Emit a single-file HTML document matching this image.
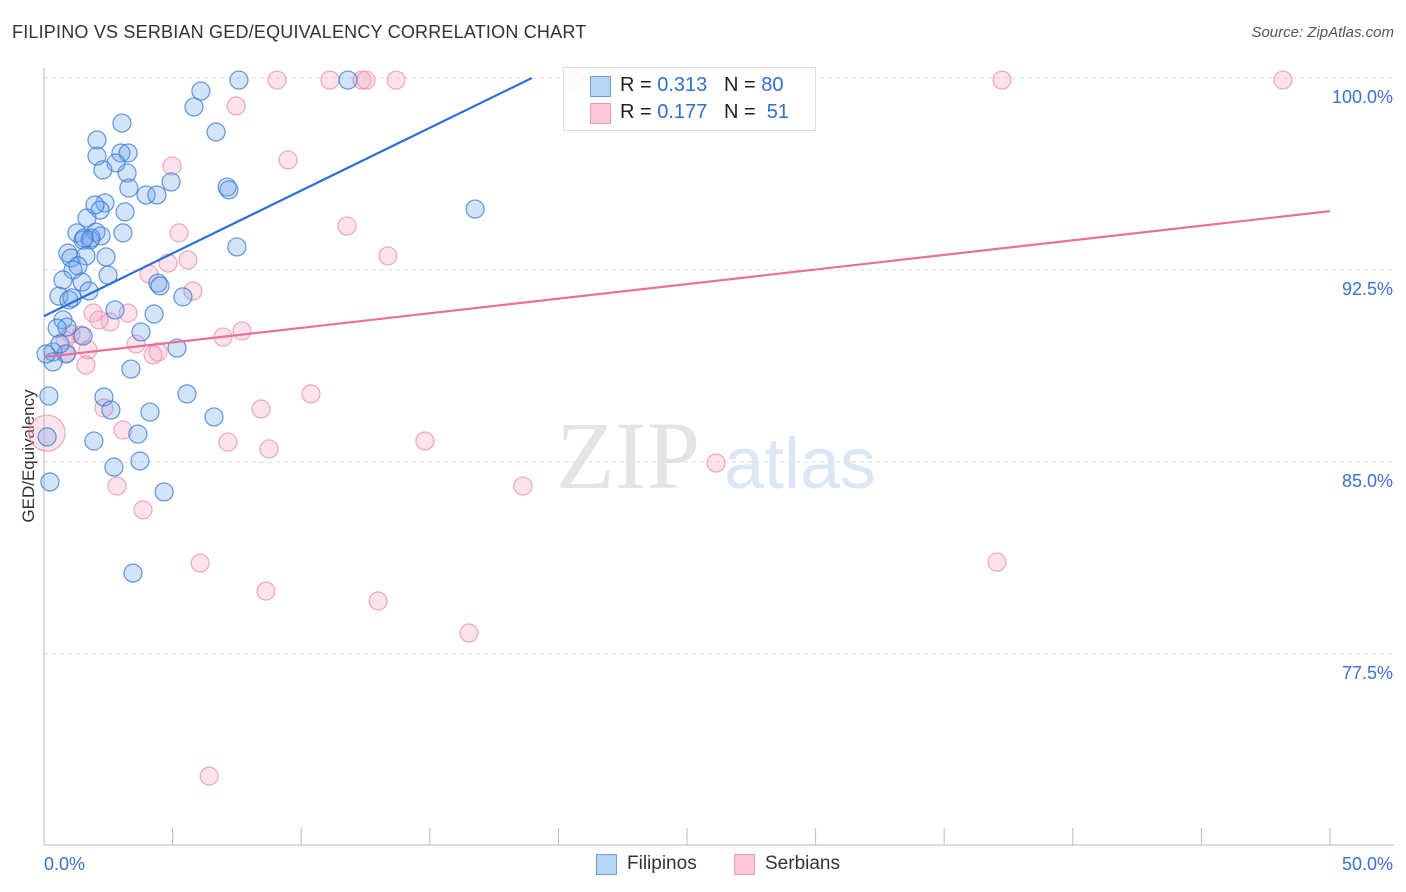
<!DOCTYPE html>
<html><head><meta charset="utf-8">
<style>
body{margin:0;background:#fff;font-family:"Liberation Sans",sans-serif;}
#wrap{position:relative;width:1406px;height:892px;overflow:hidden;}
.t{position:absolute;white-space:nowrap;}
</style></head>
<body>
<div id="wrap">
<div class="t" style="left:12px;top:22px;font-size:18px;color:#333;letter-spacing:0.2px">FILIPINO VS SERBIAN GED/EQUIVALENCY CORRELATION CHART</div>
<div class="t" style="right:12px;top:24px;font-size:15px;color:#555;font-style:italic">Source: ZipAtlas.com</div>
<svg id="svg" width="1406" height="892" style="position:absolute;left:0;top:0"></svg>
</div>
<script>
const xTickVals=[0,5,10,15,20,25,30,35,40,45,50];
const yTickVals=[100,92.5,85,77.5];
const yTickLabels=["100.0%","92.5%","85.0%","77.5%"];
const xEndLabels=["0.0%","50.0%"];
const filX=[7.58,11.82,6.10,5.83,3.03,6.69,2.06,2.06,2.99,3.27,2.80,2.29,3.23,3.30,3.97,4.39,4.94,7.12,7.19,2.37,2.18,3.15,1.67,16.76,1.28,2.02,3.07,1.52,1.79,2.22,1.83,7.50,0.93,1.05,1.63,2.41,1.32,1.13,2.49,0.74,1.48,1.75,4.43,4.51,0.58,1.09,0.97,2.76,5.40,4.28,0.74,0.89,0.51,1.52,3.77,5.17,0.86,0.35,0.35,3.38,0.19,2.33,2.60,5.56,4.12,6.61,3.65,0.12,1.94,3.73,2.72,0.23,4.67,3.46,0.08,0.62,1.56,1.98];
const filY=[99.92,99.92,99.49,98.87,98.24,97.89,97.58,96.95,97.07,97.07,96.68,96.41,96.29,95.70,95.43,95.43,95.94,95.74,95.63,95.12,94.84,94.77,94.53,94.88,93.95,93.98,93.95,93.67,93.67,93.83,93.75,93.40,93.16,92.97,93.05,93.01,92.66,92.50,92.30,92.11,92.03,91.68,91.99,91.88,91.48,91.41,91.33,90.94,91.45,90.78,90.55,90.27,90.23,89.92,90.08,89.45,89.22,89.30,88.91,88.63,87.58,87.54,87.03,87.66,86.95,86.76,86.09,85.98,85.82,85.04,84.80,84.22,83.83,80.66,89.22,89.61,93.75,95.04];
const serX=[9.06,11.12,12.36,12.52,13.69,20.61,37.25,48.17,7.47,4.98,9.49,11.78,5.25,13.37,4.08,4.82,5.60,5.79,1.91,3.27,2.57,2.14,7.70,6.96,1.44,3.58,4.43,4.24,0.89,1.71,1.63,1.05,10.38,2.33,8.44,3.07,7.15,8.75,14.81,26.13,2.84,18.62,3.85,6.07,37.05,8.63,12.99,16.52,6.42,0.82,0.12];
const serY=[99.92,99.92,99.92,99.92,99.92,99.92,99.92,99.92,98.91,96.56,96.80,94.22,93.95,93.05,92.34,92.77,92.89,91.68,90.82,90.82,90.47,90.55,90.12,89.88,89.96,89.61,89.30,89.18,89.26,89.38,88.79,90.00,87.66,87.11,87.07,86.25,85.78,85.51,85.82,84.96,84.06,84.06,83.13,81.05,81.09,79.96,79.57,78.32,72.73,89.77,86.13];
const filTrend=[[0,90.70],[18.97,100]];
const serTrend=[[0,89.10],[50,94.80]];
const NS="http://www.w3.org/2000/svg";
const svg=document.getElementById('svg');
const X=v=>44+v/50*1286;
const Y=v=>78+(100-v)*25.6;
function mk(tag,attrs,parent){const e=document.createElementNS(NS,tag);for(const k in attrs)e.setAttribute(k,attrs[k]);(parent||svg).appendChild(e);return e;}
// watermark
let wm=mk('text',{x:628,y:488,'font-size':96,'font-family':'Liberation Serif,serif',fill:'#e4e4e4','text-anchor':'middle'});wm.textContent='ZIP';


let wm2=mk('text',{x:800,y:488,'font-size':72,'font-family':'Liberation Sans,sans-serif',fill:'#dbe7f5','text-anchor':'middle'});wm2.textContent='atlas';


// gridlines and y labels
yTickVals.forEach((v,i)=>{
 let g=mk('line',{x1:44,x2:1394,y1:Y(v),y2:Y(v),stroke:'#ddd','stroke-dasharray':'4,4'});
 
 
 let t=mk('text',{x:1393,y:Y(v)+25,'font-size':18,fill:'#3a72d0','text-anchor':'end'});t.textContent=yTickLabels[i];
 
 
});
// axes
let ya=mk('line',{x1:44,x2:44,y1:68,y2:845,stroke:'#bbb'});


let xa=mk('line',{x1:44,x2:1394,y1:845,y2:845,stroke:'#bbb'});


xTickVals.forEach(v=>{let tk=mk('line',{x1:X(v),x2:X(v),y1:828,y2:845,stroke:'#bbb'});
 
 });
let xl0=mk('text',{x:44,y:870,'font-size':18,fill:'#3a72d0'});xl0.textContent=xEndLabels[0];


let xl1=mk('text',{x:1393,y:870,'font-size':18,fill:'#3a72d0','text-anchor':'end'});xl1.textContent=xEndLabels[1];


let yt=mk('text',{x:34,y:456,'font-size':17,fill:'#333','text-anchor':'middle',transform:'rotate(-90 34 456)'});yt.textContent='GED/Equivalency';


// points
serX.forEach((x,i)=>{const big=i===serX.length-1;let c=mk('circle',{cx:X(x),cy:Y(serY[i]),r:big?18:9,fill:'rgba(244,160,188,0.3)',stroke:'rgba(232,140,172,0.75)','stroke-width':1.2});
 
 });
filX.forEach((x,i)=>{let c=mk('circle',{cx:X(x),cy:Y(filY[i]),r:9,fill:'rgba(110,165,235,0.3)',stroke:'rgba(60,125,215,0.8)','stroke-width':1.2});
 
 });
let l1=mk('line',{x1:X(filTrend[0][0]),y1:Y(filTrend[0][1]),x2:X(filTrend[1][0]),y2:Y(filTrend[1][1]),stroke:'#2a70d8','stroke-width':2.2});


let l2=mk('line',{x1:X(serTrend[0][0]),y1:Y(serTrend[0][1]),x2:X(serTrend[1][0]),y2:Y(serTrend[1][1]),stroke:'#e8709a','stroke-width':2.2});


</script>
<div class="t" style="left:563px;top:67px;width:251px;height:62px;border:1px solid #ddd;background:rgba(255,255,255,0.9)">
 <div style="position:absolute;left:26px;top:8px;width:19px;height:19px;background:#b8d3f5;border:1px solid #6aa0e0"></div>
 <div style="position:absolute;left:56px;top:6px;font-size:20px;color:#222">R = <span style="color:#2f6fd0">0.313</span>&nbsp;&nbsp;&nbsp;N = <span style="color:#2f6fd0">80</span></div>
 <div style="position:absolute;left:26px;top:35px;width:19px;height:19px;background:#fcc8d8;border:1px solid #ee9ab6"></div>
 <div style="position:absolute;left:56px;top:33px;font-size:20px;color:#222">R = <span style="color:#2f6fd0">0.177</span>&nbsp;&nbsp;&nbsp;N = &nbsp;<span style="color:#2f6fd0">51</span></div>
</div>
<div class="t" style="left:596px;top:854px;width:19px;height:19px;background:#b8d3f5;border:1px solid #6aa0e0"></div>
<div class="t" style="left:627px;top:853px;font-size:19px;color:#333">Filipinos</div>
<div class="t" style="left:734px;top:854px;width:19px;height:19px;background:#fcc8d8;border:1px solid #ee9ab6"></div>
<div class="t" style="left:765px;top:853px;font-size:19px;color:#333">Serbians</div>
</body></html>
